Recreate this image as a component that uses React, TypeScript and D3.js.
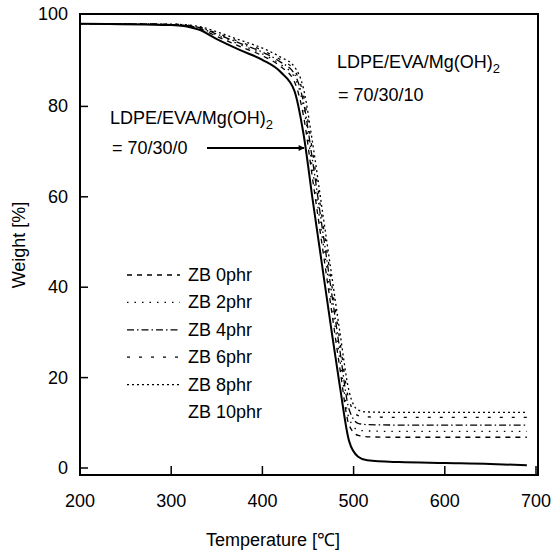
import React from "react";
import * as d3 from "d3";

const temps = [200, 300, 330, 350, 375, 400, 420, 435, 445, 455, 465, 475, 485, 495, 505, 515, 550, 600, 650, 690];
const solid70300 = [98.3, 98.0, 97.0, 94.9, 92.5, 90.3, 87.6, 83.5, 74, 59.5, 45.5, 31.5, 18, 6, 2.5, 1.7, 1.3, 1.1, 0.9, 0.6];
const zb0 = [98.3, 98.1, 97.3, 95.5, 93.3, 91.2, 88.8, 85.5, 78, 64, 50, 36, 22, 9.5, 7.2, 6.9, 6.8, 6.8, 6.8, 6.8];
const zb2 = [98.3, 98.1, 97.4, 95.8, 93.7, 91.6, 89.3, 86.5, 80, 66, 52, 38, 24, 11, 8.4, 8.2, 8.1, 8.1, 8.1, 8.1];
const zb4 = [98.3, 98.1, 97.5, 96.0, 94.0, 92.0, 89.8, 87.2, 81, 68, 54, 40, 26, 13, 9.9, 9.6, 9.5, 9.5, 9.5, 9.5];
const zb6 = [98.3, 98.2, 97.6, 96.2, 94.3, 92.4, 90.3, 88.0, 82.5, 70, 56, 42, 28, 15, 11.6, 11.3, 11.2, 11.2, 11.2, 11.2];
const zb8 = [98.3, 98.2, 97.7, 96.5, 94.7, 92.9, 90.9, 88.8, 84, 72, 58, 44, 30, 17, 12.8, 12.4, 12.3, 12.3, 12.3, 12.3];

const legendLabels = ["ZB 0phr", "ZB 2phr", "ZB 4phr", "ZB 6phr", "ZB 8phr", "ZB 10phr"];
const xTicks = [200, 300, 400, 500, 600, 700];
const yTicks = [0, 20, 40, 60, 80, 100];

const dashes = ["5,5", "1.5,6", "7,3,1.5,3", "3,9", "2,3", null];
const series = [zb0, zb2, zb4, zb6, zb8];

const FONT = "'Liberation Sans', Arial, sans-serif";

export default function App() {
  const x = d3.scaleLinear().domain([200, 700]).range([80, 536]);
  const y = d3.scaleLinear().domain([0, 100]).range([468, 16]);
  const line = d3
    .line<number>()
    .x((_, i) => x(temps[i]))
    .y((d) => y(d))
    .curve(d3.curveMonotoneX);

  const L = 80, R = 538, T = 14, B = 475;

  return (
    <svg width={552} height={552} style={{ position: "absolute", left: 0, top: 0, background: "#fff" }} fontFamily={FONT}>
      <defs>
        <marker id="ah" viewBox="0 0 10 10" refX="9" refY="5" markerWidth="7" markerHeight="6" orient="auto" markerUnits="userSpaceOnUse">
          <path d="M0,0 L10,5 L0,10 z" fill="#000" />
        </marker>
      </defs>
      <rect x={0} y={0} width={552} height={552} fill="#fff" />
      {series.map((s, i) => (
        <path key={i} d={line(s) || ""} fill="none" stroke="#000" strokeWidth={1.3} strokeDasharray={dashes[i] || undefined} />
      ))}
      <path d={line(solid70300) || ""} fill="none" stroke="#000" strokeWidth={2} />

      {/* frame */}
      <rect x={L} y={T} width={R - L} height={B - T} fill="none" stroke="#000" strokeWidth={2} />
      {xTicks.map((t) => (
        <g key={t}>
          <line x1={x(t)} x2={x(t)} y1={B} y2={B - 9} stroke="#000" strokeWidth={1.5} />
          <text x={x(t)} y={501} fontSize={18} textAnchor="middle" dominantBaseline="central">{t}</text>
        </g>
      ))}
      {yTicks.map((t) => (
        <g key={t}>
          {t < 100 && <line x1={L} x2={L + 8} y1={y(t)} y2={y(t)} stroke="#000" strokeWidth={1.5} />}
          <text x={68} y={t === 100 ? 14 : y(t)} fontSize={18} textAnchor="end" dominantBaseline="central">{t}</text>
        </g>
      ))}
      <text x={273} y={540} fontSize={18} textAnchor="middle" dominantBaseline="central">Temperature [℃]</text>
      <text transform="translate(19,245) rotate(-90)" fontSize={18} textAnchor="middle" dominantBaseline="central">Weight [%]</text>

      {/* annotations */}
      <text x={337} y={68} fontSize={18}>LDPE/EVA/Mg(OH)<tspan fontSize={13} dy={5}>2</tspan></text>
      <text x={338} y={101} fontSize={18}>= 70/30/10</text>
      <text x={110} y={124} fontSize={18}>LDPE/EVA/Mg(OH)<tspan fontSize={13} dy={5}>2</tspan></text>
      <text x={112} y={154} fontSize={18}>= 70/30/0</text>
      <line x1={207} x2={304} y1={148} y2={148} stroke="#000" strokeWidth={1.8} markerEnd="url(#ah)" />

      {/* legend */}
      {legendLabels.map((lab, i) => {
        const yy = 275 + i * 27.4;
        return (
          <g key={lab}>
            {dashes[i] && (
              <line x1={127} x2={180} y1={yy} y2={yy} stroke="#000" strokeWidth={1.3} strokeDasharray={dashes[i] as string} />
            )}
            <text x={188} y={yy} fontSize={18} dominantBaseline="central">{lab}</text>
          </g>
        );
      })}
    </svg>
  );
}
